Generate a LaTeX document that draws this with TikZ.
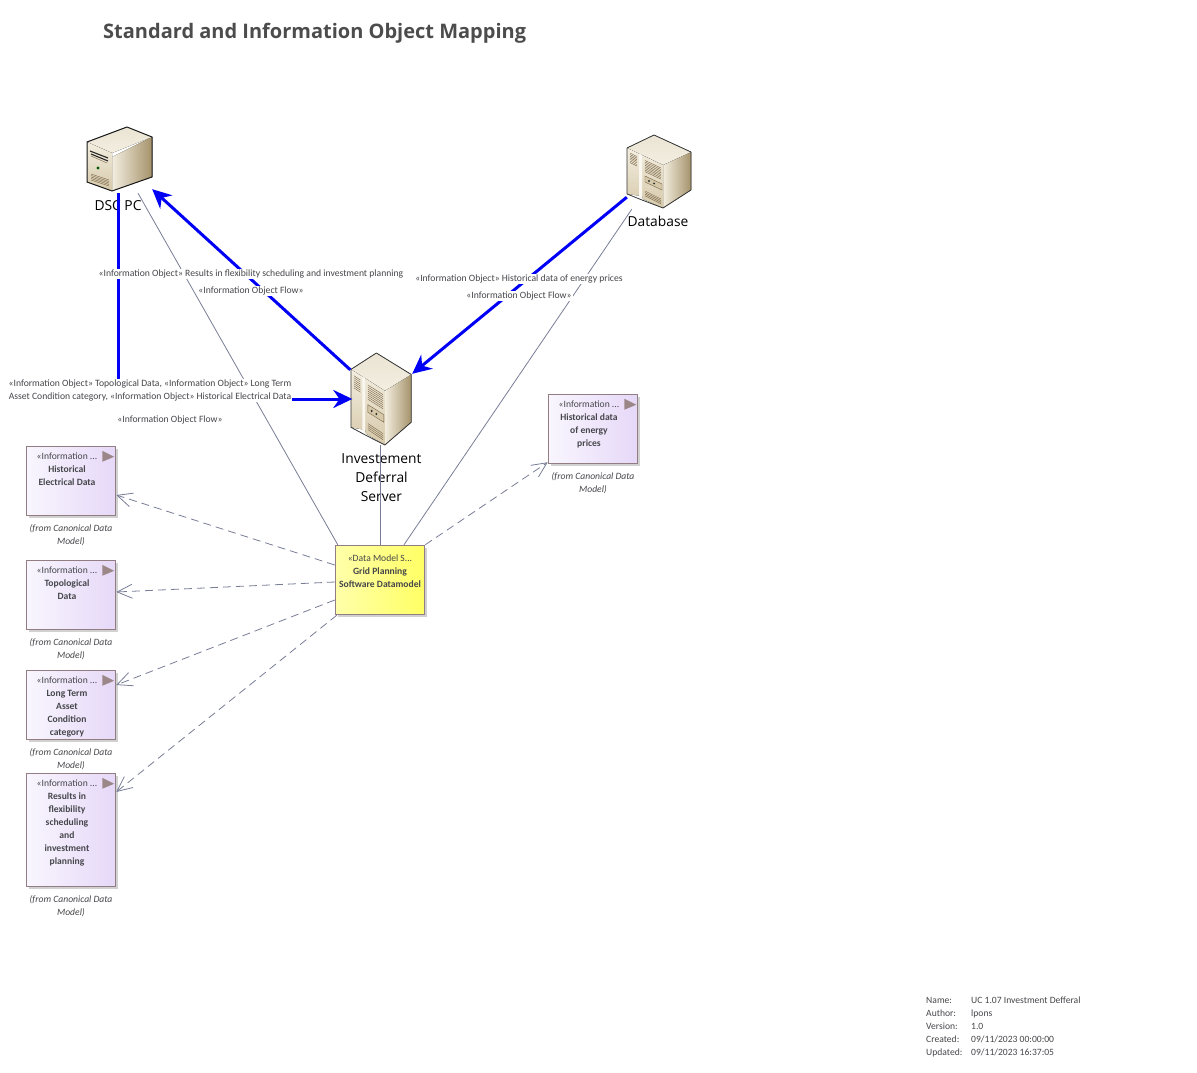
\documentclass[tikz,border=0pt]{standalone}
\usepackage{fontspec}
\setmainfont{Open Sans}
\newfontfamily\smallfont{Carlito}
\usepackage{tikz}
\usetikzlibrary{arrows.meta,positioning,shadows}

\definecolor{flowblue}{RGB}{0,0,245}
\definecolor{linegray}{RGB}{120,125,150}
\definecolor{boxedge}{RGB}{145,125,130}
\definecolor{boxmark}{RGB}{155,135,135}
\definecolor{inktext}{RGB}{70,70,75}
\definecolor{boxleft}{RGB}{249,246,254}
\definecolor{boxright}{RGB}{230,216,248}
\definecolor{noteleft}{RGB}{255,255,170}
\definecolor{noteright}{RGB}{255,255,100}
\definecolor{tanpale}{RGB}{243,238,224}
\definecolor{tanmid}{RGB}{214,201,170}
\definecolor{tandark}{RGB}{165,146,106}
\definecolor{tanline}{RGB}{120,100,70}

\tikzset{
  pics/cabinet/.style={code={
    \fill[left color=tanpale,right color=tandark] (36,30) -- (64,17) -- (64,55) -- (36,73) -- cycle;
    \fill[top color=tanmid!50!white,bottom color=tanpale] (27,0) -- (0,13) -- (36,30) -- (64,17) -- cycle;
    \fill[top color=tanpale,bottom color=tanmid] (0,13) -- (36,30) -- (36,73) -- (16,64) -- (15,61) -- (0,59) -- cycle;
    \fill[tanpale!50!white] (12,18.5) -- (15,20) -- (15,64) -- (12,62) -- cycle;
    \foreach \i in {0,1.6,...,11}
      \draw[tanline,line width=.4] (3,18+\i) -- (10,21.5+\i);
    \foreach \i in {0,1.6,...,12}
      \draw[tanline,line width=.4] (18,25.5+\i) -- (34,33+\i);
    \foreach \i in {0,1.6,3.2,4.8}
      \draw[tanline,line width=.4] (18,56+\i) -- (34,64+\i);
    \draw[tanline,fill=tanmid,line width=.4] (18,41) -- (35,49) -- (35,55) -- (18,47) -- cycle;
    \fill[black!80] (22,46) circle (1.1) (27,48.4) circle (1.1);
    \draw[black!80,line width=.8,line join=round] (27,0) -- (0,13) -- (0,59) -- (15,65) -- (36,73) -- (64,55) -- (64,17) -- cycle;
  }},
  pics/desktop/.style={code={
    \fill[left color=tanpale,right color=tandark] (25,30) -- (65,10) -- (65,50) -- (25,64) -- cycle;
    \fill[top color=tanmid!50!white,bottom color=tanpale] (40,0) -- (0,15) -- (25,26) -- (65,10) -- cycle;
    \fill[top color=tanpale,bottom color=tanmid] (0,15) -- (25,26) -- (25,64) -- (0,55) -- cycle;
    \draw[black!85,line width=1.1] (3,24) -- (21,31) (4,27) -- (21,34);
    \draw[tanline,line width=.4] (4,29) -- (20,36);
    \fill[green!35!black] (11,41) circle (1.6);
    \foreach \i in {0,1.5,...,6}
      \draw[tanline,line width=.4] (4,47+\i) -- (22,53+\i);
    \draw[black!90,line width=1,line join=round] (40,0) -- (0,15) -- (0,55) -- (25,64) -- (65,50) -- (65,10) -- cycle;
  }}
}

\begin{document}
\begin{tikzpicture}[x=1pt, y=-1pt, >=Stealth,
    iconbox/.style={minimum width=#1, inner sep=0pt},
    iconname/.style={font=\fontsize{13.8}{19}\selectfont, text=black, align=center, inner sep=0pt},
    infobox/.style={draw=boxedge, line width=1pt, left color=boxleft, right color=boxright,
                    minimum width=89.5pt, inner sep=0pt,
                    drop shadow={shadow xshift=2.5pt, shadow yshift=-2.5pt, fill=black!18, opacity=1}},
    modelbox/.style={infobox, left color=noteleft, right color=noteright, minimum height=69.5pt},
    boxtext/.style={font=\smallfont\fontsize{9.6}{13}\selectfont, text=inktext, align=center, anchor=north, inner sep=0pt},
    fromtext/.style={font=\smallfont\itshape\fontsize{9.6}{13}\selectfont, text=inktext, align=center, inner sep=0pt},
    flowtext/.style={font=\smallfont\fontsize{9.65}{13}\selectfont, text=inktext, align=center, fill=white, inner sep=1pt},
    flow/.style={draw=flowblue, line width=3pt, -{Stealth[length=19pt,width=18pt]}},
    trace/.style={draw=linegray, line width=.8pt},
    realize/.style={trace, dashed, dash pattern=on 8pt off 5pt, -{Straight Barb[length=15pt,width=14pt]}}]
\useasboundingbox (0,0) rectangle (1197,1073);

\node[font=\bfseries\fontsize{20}{24}\selectfont, text=black!70, anchor=west, inner sep=0pt] (title) at (103,33) {Standard and Information Object Mapping};

% icons
\node[iconbox=68pt, minimum height=68pt] (dscpc) at (118,159) {};
\node[iconbox=64pt, minimum height=74pt] (database) at (659,172) {};
\node[iconbox=60pt, minimum height=92pt] (server) at (380.5,399) {};
\pic at (87,127) {desktop};
\pic at (627,135) {cabinet};
\pic[xscale=.94, yscale=1.26] at (351,353) {cabinet};
\node[iconname] (dscname) at (118,206) {DSC PC};
\node[iconname] (dbname) at (658,221) {Database};
\node[iconname] (servername) at (381.5,478) {Investement\\Deferral\\Server};

% boxes
\node[infobox, minimum height=69.5pt] (hed) at (71,481) {};
\node[infobox, minimum height=69.5pt] (topo) at (71,595) {};
\node[infobox, minimum height=69.5pt] (ltac) at (71,705) {};
\node[infobox, minimum height=113.5pt] (results) at (71,830) {};
\node[infobox, minimum height=69.5pt] (hep) at (593,429) {};
\node[modelbox] (model) at (380,580) {};

\foreach \b in {hed,topo,ltac,results,hep}
  \fill[boxmark] ([xshift=-14pt,yshift=-5pt]\b.north east) -- ([xshift=-2pt,yshift=-11pt]\b.north east) -- ([xshift=-14pt,yshift=-16pt]\b.north east) -- cycle;

\node[boxtext] (hedtext) at ([xshift=-4pt,yshift=-7pt]hed.north) {«Information ...\\\textbf{Historical}\\\textbf{Electrical Data}};
\node[boxtext] (topotext) at ([xshift=-4pt,yshift=-7pt]topo.north) {«Information ...\\\textbf{Topological}\\\textbf{Data}};
\node[boxtext] (ltactext) at ([xshift=-4pt,yshift=-7pt]ltac.north) {«Information ...\\\textbf{Long Term}\\\textbf{Asset}\\\textbf{Condition}\\\textbf{category}};
\node[boxtext] (resultstext) at ([xshift=-4pt,yshift=-7pt]results.north) {«Information ...\\\textbf{Results in}\\\textbf{flexibility}\\\textbf{scheduling}\\\textbf{and}\\\textbf{investment}\\\textbf{planning}};
\node[boxtext] (heptext) at ([xshift=-4pt,yshift=-7pt]hep.north) {«Information ...\\\textbf{Historical data}\\\textbf{of energy}\\\textbf{prices}};
\node[boxtext] (modeltext) at ([yshift=-10pt]model.north) {«Data Model S...\\\textbf{Grid Planning}\\\textbf{Software Datamodel}};

\node[fromtext, below=8pt of hed] (hedfrom) {(from Canonical Data\\Model)};
\node[fromtext, below=8pt of topo] (topofrom) {(from Canonical Data\\Model)};
\node[fromtext, below=8pt of ltac] (ltacfrom) {(from Canonical Data\\Model)};
\node[fromtext, below=8pt of results] (resultsfrom) {(from Canonical Data\\Model)};
\node[fromtext, below=8pt of hep] (hepfrom) {(from Canonical Data\\Model)};

% connectors
\draw[trace] ([xshift=20pt]dscpc.south) -- ([xshift=3pt]model.north west);
\draw[trace] (server.south) -- (server.south |- model.north);
\draw[trace] ([xshift=5pt]database.south west) -- ([xshift=24pt]model.north);

\draw[realize] ([yshift=15pt]model.west) -- ([yshift=-14pt]hed.east);
\draw[realize] ([yshift=-2pt]model.west) -- ([yshift=3pt]topo.east);
\draw[realize] ([yshift=-20pt]model.west) -- ([yshift=20pt]ltac.east);
\draw[realize] ([xshift=2pt]model.south west) -- ([yshift=38pt]results.east);
\draw[realize] (model.north east) -- ([yshift=2pt]hep.south west);

\draw[flow] (dscpc.south) |- ([xshift=2pt]server.west);
\draw[flow] ([yshift=-17pt]server.north west) -- ([yshift=4pt]dscpc.south east);
\draw[flow] ([yshift=12pt]database.south west) -- ([xshift=1.5pt,yshift=-21pt]server.north east);

% flow labels
\node[flowtext] (resultsflow) at (251,274) {«Information Object» Results in flexibility scheduling and investment planning};
\node[flowtext] (resultsname) at (251,291) {«Information Object Flow»};
\node[flowtext] (pricesflow) at (519,279) {«Information Object» Historical data of energy prices};
\node[flowtext] (pricesname) at (519,296) {«Information Object Flow»};
\node[flowtext] (assetflow) at (150,390.5) {«Information Object» Topological Data, «Information Object» Long Term\\Asset Condition category, «Information Object» Historical Electrical Data};
\node[flowtext] (assetname) at (170,420) {«Information Object Flow»};

% footer
\node[font=\smallfont\fontsize{9.6}{13}\selectfont, text=inktext, align=left, anchor=north west, inner sep=0pt] (footkeys) at (926,997) {Name:\\Author:\\Version:\\Created:\\Updated:};
\node[font=\smallfont\fontsize{9.6}{13}\selectfont, text=inktext, align=left, anchor=north west, inner sep=0pt] (footvalues) at (971,997) {UC 1.07 Investment Defferal\\lpons\\1.0\\09/11/2023 00:00:00\\09/11/2023 16:37:05};
\end{tikzpicture}
\end{document}
